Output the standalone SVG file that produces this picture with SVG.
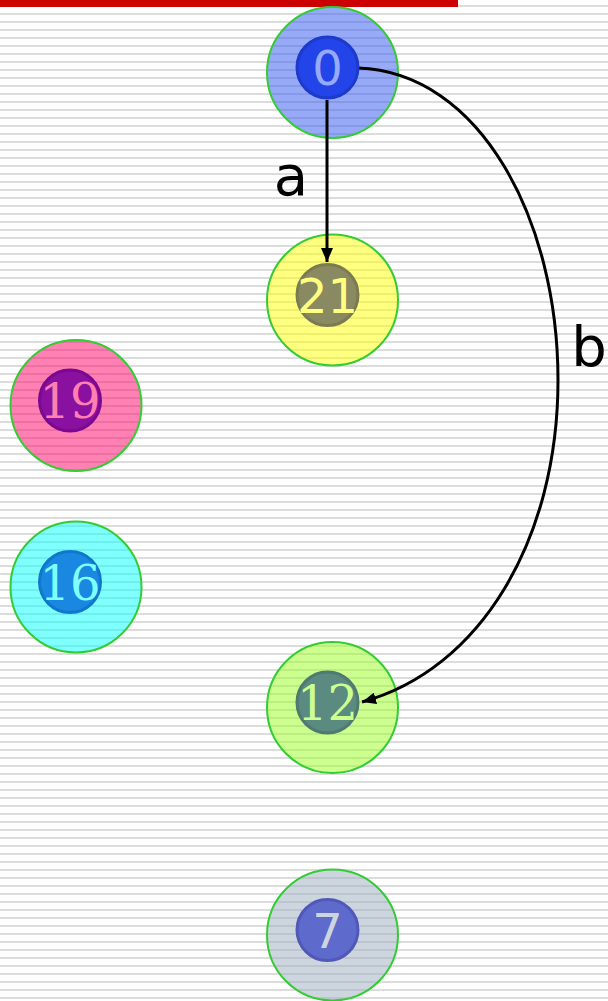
<svg xmlns="http://www.w3.org/2000/svg" width="608" height="1001" viewBox="0 0 608 1001">
  <style>
    .outer { stroke: #33cc33; stroke-width: 2; fill-opacity: 0.5; }
    .inner { stroke-width: 3; }
    .num { font-size: 48px; text-anchor: middle; }
    .sans { font-family: "DejaVu Sans", "Liberation Sans", sans-serif; }
    .serif { font-family: "DejaVu Serif", "Liberation Serif", serif; }
    .edge { fill: none; stroke: #000; stroke-width: 3; }
    .elabel { font-family: "DejaVu Sans", "Liberation Sans", sans-serif; font-size: 56px; fill: #000; text-anchor: middle; }
  </style>
  <defs>
    <pattern id="stripes" width="8" height="8" patternUnits="userSpaceOnUse">
      <rect width="8" height="8" fill="#ffffff"/>
      <rect y="5" width="8" height="2" fill="#dcdcdc"/>
    </pattern>
    <marker id="arrow" viewBox="0 0 14 12" refX="14" refY="6" markerWidth="14" markerHeight="12" markerUnits="userSpaceOnUse" orient="auto">
      <path d="M0,0 L14,6 L0,12 z" fill="#000"/>
    </marker>
  </defs>

  <!-- background -->
  <rect width="608" height="1001" fill="url(#stripes)"/>
  <rect x="0" y="0" width="458" height="7" fill="#cc0000"/>

  <!-- outer discs -->
  <g id="node-0">
    <circle class="outer" cx="332.5" cy="72.5" r="65.5" fill="#2d55f1"/>
  </g>
  <g id="node-21">
    <circle class="outer" cx="332.5" cy="300" r="65.5" fill="#ffff01"/>
  </g>
  <g id="node-19">
    <circle class="outer" cx="76" cy="405.5" r="65.5" fill="#ff0165"/>
  </g>
  <g id="node-16">
    <circle class="outer" cx="76" cy="587" r="65.5" fill="#01ffff"/>
  </g>
  <g id="node-12">
    <circle class="outer" cx="332.5" cy="707.5" r="65.5" fill="#99ff21"/>
  </g>
  <g id="node-7">
    <circle class="outer" cx="332.5" cy="935" r="65.5" fill="#9babbd"/>
  </g>

  <!-- connectors -->
  <g id="edges">
    <path class="edge" d="M327,100 L327,262" marker-end="url(#arrow)"/>
    <text class="elabel" x="291" y="195">a</text>
    <path class="edge" d="M358,68 C480,72 558,220 558,380 C558,540 480,670 362,702" marker-end="url(#arrow)"/>
    <text class="elabel" x="589" y="366">b</text>
  </g>

  <!-- inner cores with labels -->
  <g id="core-0">
    <circle class="inner" cx="327.5" cy="67.5" r="30.5" fill="#2244e8" stroke="#1d3acb"/>
    <text class="num sans" x="327.5" y="85" fill="#96aaf8">0</text>
  </g>
  <g id="core-21">
    <circle class="inner" cx="327.5" cy="295" r="30.5" fill="#8a8a62" stroke="#7b7b52"/>
    <text class="num sans" x="327.5" y="312.5" fill="#ffff80">21</text>
  </g>
  <g id="core-19">
    <circle class="inner" cx="70" cy="400.5" r="30.5" fill="#8a10a0" stroke="#7a0890"/>
    <text class="num serif" x="70" y="418" fill="#ff80b0">19</text>
  </g>
  <g id="core-16">
    <circle class="inner" cx="70" cy="582" r="30.5" fill="#1a88e0" stroke="#1078cc"/>
    <text class="num serif" x="70" y="599.5" fill="#80ffff">16</text>
  </g>
  <g id="core-12">
    <circle class="inner" cx="327.5" cy="702.5" r="30.5" fill="#5a8a80" stroke="#4e7a70"/>
    <text class="num serif" x="327.5" y="720" fill="#ccff90">12</text>
  </g>
  <g id="core-7">
    <circle class="inner" cx="327.5" cy="930" r="30.5" fill="#5e6acc" stroke="#5058b8"/>
    <text class="num sans" x="327.5" y="947.5" fill="#cdd5de">7</text>
  </g>
</svg>
